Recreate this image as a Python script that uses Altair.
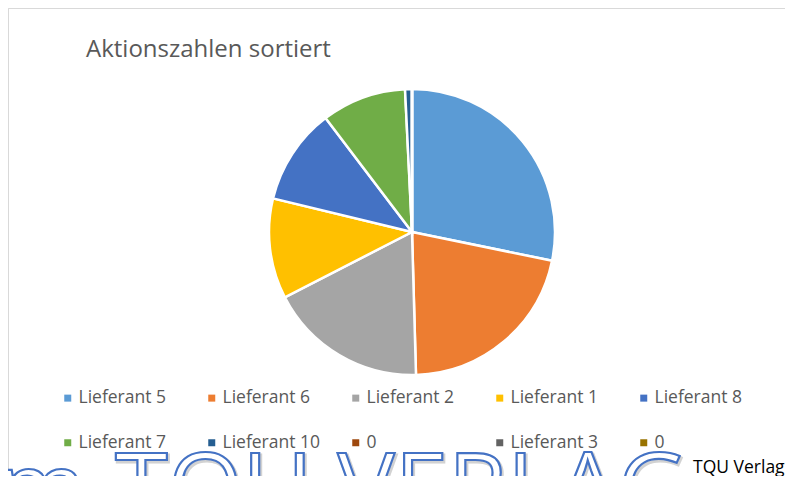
import altair as alt
import pandas as pd

# ---- data ----
suppliers = ["Lieferant 5", "Lieferant 6", "Lieferant 2", "Lieferant 1", "Lieferant 8",
             "Lieferant 7", "Lieferant 10", "0", "Lieferant 3", "0"]
actions = [254, 192, 161, 102, 98, 86, 7, 0, 0, 0]
colors = ["#5B9BD5", "#ED7D31", "#A5A5A5", "#FFC000", "#4472C4",
          "#70AD47", "#255E91", "#9E480E", "#636363", "#997300"]
title_text = "Aktionszahlen sortiert"
watermark_left = "om"
watermark_main = "TQU VERLAG"
credit = "TQU Verlag"

# unique legend keys (duplicate "0" labels get an invisible suffix)
keys = []
for s in suppliers:
    k = s
    while k in keys:
        k += "\u200b"
    keys.append(k)

df = pd.DataFrame({"key": keys, "value": actions, "idx": list(range(len(keys)))})

W, H = 777, 468
FONT = "Open Sans"

pie = alt.Chart(df).mark_arc(radius=143, stroke="white", strokeWidth=2.5).encode(
    theta=alt.Theta("value:Q", stack=True),
    order=alt.Order("idx:Q"),
    color=alt.Color(
        "key:N",
        scale=alt.Scale(domain=keys, range=colors),
        sort=keys,
        legend=alt.Legend(
            orient="none", legendX=51, legendY=381, direction="horizontal",
            columns=5, title=None, symbolType="square", symbolSize=49,
            symbolStrokeWidth=0, labelFont=FONT, labelFontSize=17.5,
            labelColor="#595959", labelOffset=2, columnPadding=27,
            rowPadding=26, gridAlign="all", padding=0, labelLimit=300,
        ),
    ),
    x=alt.value(404),
    y=alt.value(224),
)

border_df = pd.DataFrame({"a": [0]})
top_rule = alt.Chart(border_df).mark_rule(color="#D9D9D9", strokeWidth=1).encode(
    x=alt.value(0.5), x2=alt.value(W + 20), y=alt.value(0.5))
left_rule = alt.Chart(border_df).mark_rule(color="#D9D9D9", strokeWidth=1).encode(
    x=alt.value(0.5), y=alt.value(0.5), y2=alt.value(H + 20))

wm_df = pd.DataFrame({"t": [watermark_main], "l": [watermark_left]})
wm_shadow = alt.Chart(wm_df).mark_text(
    align="left", baseline="alphabetic", font=FONT, fontSize=96, fontWeight="normal",
    fill="white", stroke="#C8C8C8", strokeWidth=3, opacity=0.8,
).encode(text="t:N", x=alt.value(108.5), y=alt.value(514.5))
wm_main = alt.Chart(wm_df).mark_text(
    align="left", baseline="alphabetic", font=FONT, fontSize=96, fontWeight="normal",
    fill="white", stroke="#4472C4", strokeWidth=2.2,
).encode(text="t:N", x=alt.value(107), y=alt.value(513))
wm_left = alt.Chart(wm_df).mark_text(
    align="right", baseline="alphabetic", font=FONT, fontSize=96, fontWeight="normal",
    fill="white", stroke="#4472C4", strokeWidth=2.2,
).encode(text="l:N", x=alt.value(78), y=alt.value(513))

credit_df = pd.DataFrame({"c": [credit]})
credit_txt = alt.Chart(credit_df).mark_text(
    align="left", baseline="alphabetic", font=FONT, fontSize=17.5, color="black",
).encode(text="c:N", x=alt.value(685), y=alt.value(465))

chart = alt.layer(top_rule, left_rule, pie, wm_shadow, wm_main, wm_left, credit_txt).properties(
    width=W, height=H,
    title=alt.TitleParams(
        text=title_text, anchor="start", frame="group", font=FONT, fontSize=24,
        fontWeight="normal", color="#595959", baseline="alphabetic",
        offset=0, dx=78, dy=73,
    ),
    autosize=alt.AutoSizeParams(type="none"),
    padding=0,
).configure_view(stroke=None).configure(background="white")

chart.save("out.html", embed_options={"renderer": "svg", "actions": False})
